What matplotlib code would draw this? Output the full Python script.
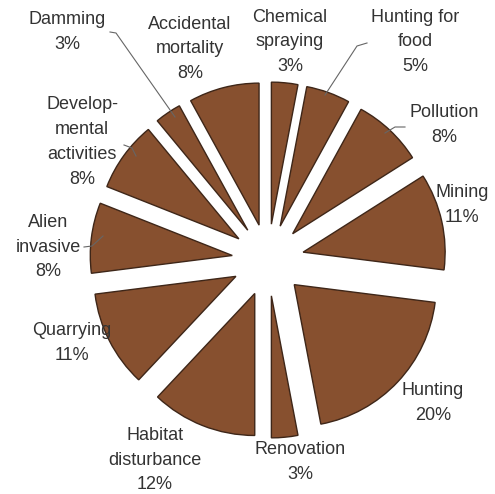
import matplotlib
matplotlib.use("Agg")
import matplotlib.pyplot as plt

# causes of decline, clockwise from the top
labels = ["Chemical\nspraying", "Hunting for\nfood", "Pollution", "Mining",
          "Hunting", "Renovation", "Habitat\ndisturbance", "Quarrying",
          "Alien\ninvasive", "Develop-\nmental\nactivities", "Damming",
          "Accidental\nmortality"]
values = [3, 5, 8, 11, 20, 3, 12, 11, 8, 8, 3, 8]

# label text centres (pixels from top-left of the picture)
label_xy = [(290, 42), (415, 42), (444, 125), (462, 205), (433, 403),
            (300, 462), (155, 460), (72, 343), (48, 247), (82, 142),
            (67, 32), (190, 49)]

# leader lines: (label end, slice end), pixels
leaders = {1: [(367, 43), (357, 46), (325, 95)],
           2: [(405, 127), (395, 127), (385, 133)],
           8: [(84, 247), (92, 246), (103, 236)],
           9: [(124, 145), (132, 148), (136, 156)],
           10: [(110, 32), (116, 33), (175, 117)]}

W, H = 495, 494
cx, cy, r = 268, 234, 142

plt.rcParams['font.family'] = ['Liberation Sans', 'DejaVu Sans']
fig = plt.figure(figsize=(W / 100, H / 100), dpi=100)
ax = fig.add_axes([0, 0, 1, 1])

ax.pie(values, startangle=90, counterclock=False, center=(cx, cy), radius=r,
       explode=[36] * len(values), colors=['#87502f'] * len(values),
       wedgeprops=dict(edgecolor='#3e2618', linewidth=1.0))

for i, (lab, v) in enumerate(zip(labels, values)):
    x, y = label_xy[i]
    ax.text(x, H - y, f"{lab}\n{v}%", ha='center', va='center',
            fontsize=13, color='#333333', linespacing=1.6)

for i, pts in leaders.items():
    ax.plot([p[0] for p in pts], [H - p[1] for p in pts],
            color='#666666', lw=0.8)

ax.set_aspect('auto')
ax.set_xlim(0, W)
ax.set_ylim(0, H)
ax.axis('off')
fig.savefig("out.png", dpi=100, facecolor='white')
